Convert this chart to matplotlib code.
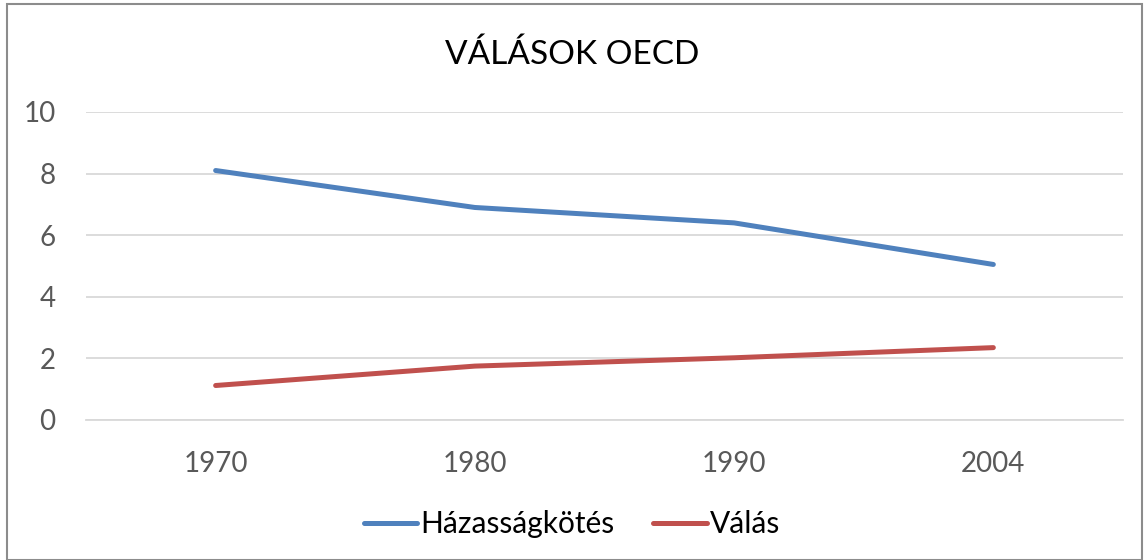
import matplotlib.pyplot as plt
from matplotlib.patches import Rectangle

years = ['1970', '1980', '1990', '2004']
hazassagkotes = [8.1, 6.9, 6.4, 5.05]
valas = [1.12, 1.75, 2.02, 2.35]

plt.rcParams['font.family'] = ['Lato', 'DejaVu Sans']

fig = plt.figure(figsize=(11.44, 5.6), dpi=100)
ax = fig.add_axes([0.0752, 0.25, 0.9064, 0.55])

x = range(len(years))
ax.plot(x, hazassagkotes, color='#4F81BD', lw=3.6, solid_capstyle='round', label='Házasságkötés')
ax.plot(x, valas, color='#C0504D', lw=3.6, solid_capstyle='round', label='Válás')

ax.set_xlim(-0.5, len(years) - 0.5)
ax.set_ylim(0, 10)
ax.set_yticks(range(0, 11, 2))
ax.set_xticks(list(x))
ax.set_xticklabels(years)
ax.grid(axis='y', color='#D9D9D9', lw=1.3)
ax.set_axisbelow(True)
for s in ax.spines.values():
    s.set_visible(False)
ax.spines['bottom'].set_visible(True)
ax.spines['bottom'].set_color('#D9D9D9')
ax.spines['bottom'].set_linewidth(1.3)
ax.tick_params(length=0, labelsize=20, labelcolor='#595959')
ax.tick_params(axis='x', pad=22)
ax.tick_params(axis='y', pad=22)

fig.text(0.5, 0.902, 'VÁLÁSOK OECD', ha='center', va='center', fontsize=24, color='black')

fig.legend(loc='center', bbox_to_anchor=(0.5, 0.064), ncol=2, frameon=False,
           fontsize=21.5, handlelength=1.8, handletextpad=0.1, columnspacing=1.3)

fig.patches.append(Rectangle((0.006, 0.0), 0.992, 0.992, transform=fig.transFigure,
                             fill=False, edgecolor='#8C8C8C', lw=1.5))

fig.savefig('out.png', dpi=100)
